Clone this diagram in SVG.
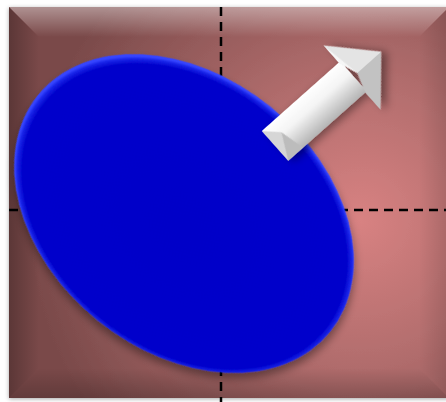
<svg xmlns="http://www.w3.org/2000/svg" width="446" height="402" viewBox="0 0 446 402">
  <defs>
    <radialGradient id="bg" gradientUnits="userSpaceOnUse" cx="360" cy="220" r="330">
      <stop offset="0" stop-color="#d88282"/>
      <stop offset="0.45" stop-color="#b06c6c"/>
      <stop offset="1" stop-color="#7a4a4a"/>
    </radialGradient>
    <linearGradient id="bvTop" x1="0" y1="0" x2="0" y2="1">
      <stop offset="0" stop-color="#ffffff" stop-opacity="0.4"/>
      <stop offset="1" stop-color="#ffffff" stop-opacity="0"/>
    </linearGradient>
    <linearGradient id="bvLeft" x1="0" y1="0" x2="1" y2="0">
      <stop offset="0" stop-color="#000000" stop-opacity="0.25"/>
      <stop offset="1" stop-color="#000000" stop-opacity="0"/>
    </linearGradient>
    <linearGradient id="bvRight" x1="1" y1="0" x2="0" y2="0">
      <stop offset="0" stop-color="#000000" stop-opacity="0.12"/>
      <stop offset="1" stop-color="#000000" stop-opacity="0"/>
    </linearGradient>
    <linearGradient id="bvBottom" x1="0" y1="1" x2="0" y2="0">
      <stop offset="0" stop-color="#000000" stop-opacity="0.2"/>
      <stop offset="1" stop-color="#000000" stop-opacity="0"/>
    </linearGradient>
    <radialGradient id="blue" cx="0.505" cy="0.505" r="0.5" fx="0.53" fy="0.55">
      <stop offset="0" stop-color="#0000c8"/>
      <stop offset="0.955" stop-color="#0000cb"/>
      <stop offset="0.985" stop-color="#1824e8"/>
      <stop offset="1" stop-color="#3644ff"/>
    </radialGradient>
    <linearGradient id="shaft" x1="0" y1="0" x2="0" y2="1">
      <stop offset="0" stop-color="#ffffff"/>
      <stop offset="0.4" stop-color="#f4f4f4"/>
      <stop offset="1" stop-color="#b4b4b4"/>
    </linearGradient>
    <filter id="sh" x="-20%" y="-20%" width="150%" height="150%">
      <feDropShadow dx="4" dy="4" stdDeviation="4" flood-color="#000" flood-opacity="0.4"/>
    </filter>
    <filter id="fsh" x="-5%" y="-5%" width="110%" height="110%">
      <feDropShadow dx="0" dy="1" stdDeviation="2" flood-color="#000" flood-opacity="0.35"/>
    </filter>
  </defs>
  <style>
    .dash { stroke: #000; stroke-width: 2.5; stroke-dasharray: 9 6; fill: none; }
  </style>
  <rect width="446" height="402" fill="#ffffff"/>
  <g id="frame">
    <rect x="9" y="7" width="440" height="391" fill="url(#bg)" filter="url(#fsh)"/>
    <polygon points="9,7 449,7 419,37 39,37" fill="url(#bvTop)"/>
    <polygon points="9,7 39,37 39,368 9,398" fill="url(#bvLeft)"/>
    <polygon points="449,7 449,398 419,368 419,37" fill="url(#bvRight)"/>
    <polygon points="9,398 39,368 419,368 449,398" fill="url(#bvBottom)"/>
  </g>
  <g id="axes">
    <line class="dash" x1="221" y1="7" x2="221" y2="402"/>
    <line class="dash" x1="9" y1="210" x2="446" y2="210"/>
  </g>
  <g id="ellipse">
    <ellipse cx="0" cy="0" rx="188" ry="137.5" transform="translate(184,213.5) rotate(39)" fill="url(#blue)" filter="url(#sh)"/>
  </g>
  <g id="arrow" transform="translate(275,146) rotate(-41.6)" filter="url(#sh)">
    <rect x="0" y="-20" width="105" height="40" fill="url(#shaft)"/>
    <polygon points="0,-20 14,-6 14,20 0,20" fill="#d6d6d6"/>
    <polygon points="0,20 14,-6 20,20" fill="#bcbcbc"/>
    <polygon points="103,-43 142,0 110,0 103,-20" fill="#e4e4e4"/>
    <polygon points="103,43 142,0 110,0 103,20" fill="#c2c2c2"/>
    <polygon points="103,-43 110,0 103,-20" fill="#f6f6f6"/>
  </g>
</svg>
